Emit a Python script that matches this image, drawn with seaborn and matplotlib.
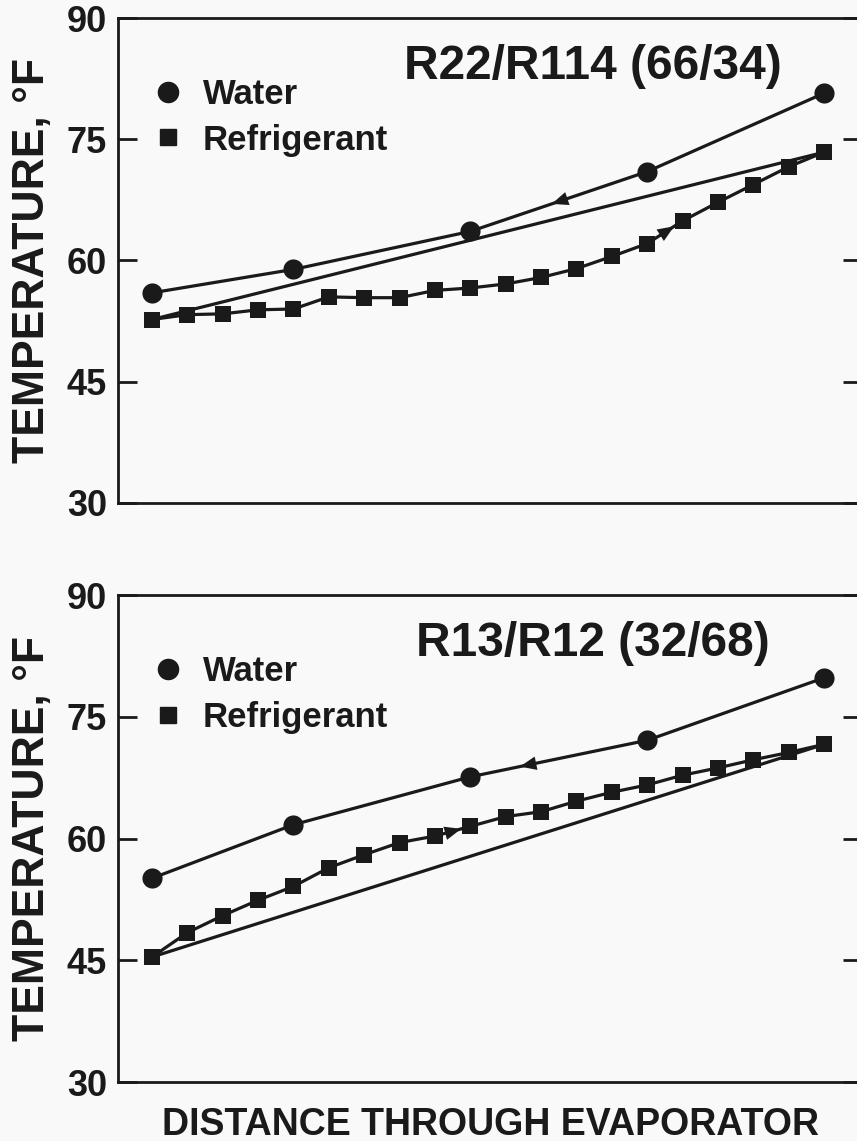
import matplotlib
matplotlib.use("Agg")
import matplotlib.pyplot as plt
from matplotlib.lines import Line2D
import seaborn as sns

# --------------------------
# Data
# --------------------------
water_pos = [0, 4, 9, 14, 19]
ref_pos = list(range(20))

r22_water = [56.0, 58.9, 63.6, 71.0, 80.7]
r22_ref = [52.7, 53.3, 53.4, 53.9, 54.0, 55.5, 55.4, 55.4, 56.3, 56.6,
           57.1, 57.9, 59.0, 60.5, 62.1, 64.9, 67.2, 69.4, 71.6, 73.4]

r13_water = [55.1, 61.7, 67.6, 72.1, 79.8]
r13_ref = [45.4, 48.4, 50.5, 52.4, 54.1, 56.4, 58.0, 59.5, 60.3, 61.5,
           62.7, 63.3, 64.6, 65.7, 66.6, 67.8, 68.7, 69.7, 70.6, 71.6]

y_ticks = [30, 45, 60, 75, 90]
titles = ["R22/R114 (66/34)", "R13/R12 (32/68)"]
legend_labels = ["Water", "Refrigerant"]
ylabel = "TEMPERATURE, \u00b0F"
xlabel = "DISTANCE THROUGH EVAPORATOR"

INK = "#1a1a1a"
BG = "#f9f9f9"


def flow_arrow(ax, xs, ys, i, frac, backward):
    """Small arrowhead sitting on segment i -> i+1 of a series"""
    x0, x1 = xs[i], xs[i + 1]
    y0, y1 = ys[i], ys[i + 1]
    xh = x0 + frac * (x1 - x0)
    yh = y0 + frac * (y1 - y0)
    step = -0.02 if backward else 0.02
    xt = xh - step * (x1 - x0)
    yt = yh - step * (y1 - y0)
    ax.annotate("", xy=(xh, yh), xytext=(xt, yt),
                arrowprops=dict(arrowstyle="-|>,head_length=0.85,head_width=0.35",
                                color=INK, lw=0, shrinkA=0, shrinkB=0,
                                mutation_scale=14), zorder=5)


def panel(ax, water, ref, title, arrows):
    # straight line from first to last refrigerant point
    sns.lineplot(x=[ref_pos[0], ref_pos[-1]], y=[ref[0], ref[-1]], ax=ax,
                 color=INK, linewidth=2.3, zorder=2)
    sns.lineplot(x=water_pos, y=water, ax=ax, color=INK, linewidth=2.3,
                 marker="o", markersize=14.5, markeredgewidth=0, sort=False, zorder=3)
    sns.lineplot(x=ref_pos, y=ref, ax=ax, color=INK, linewidth=2.3,
                 marker="s", markersize=11.5, markeredgewidth=0, sort=False, zorder=3)

    flow_arrow(ax, water_pos, water, *arrows[0], backward=True)
    flow_arrow(ax, ref_pos, ref, *arrows[1], backward=False)

    ax.set_xlim(-0.96, 20.07)
    ax.set_ylim(30, 90)
    ax.set_yticks(y_ticks)
    ax.set_xticks([])
    ax.tick_params(axis="y", direction="in", length=13.7, width=2,
                   right=True, pad=8, labelsize=26, colors=INK)
    for s in ax.spines.values():
        s.set_linewidth(2)
        s.set_color(INK)
    ax.set_facecolor(BG)
    ax.set_ylabel(ylabel, fontsize=32, fontweight="bold", color=INK, labelpad=10)

    ax.text(0.638, 0.875, title, transform=ax.transAxes, ha="center",
            va="baseline", fontsize=34.5, fontweight="bold", color=INK)

    handles = [Line2D([], [], linestyle="none", marker="o", markersize=14.5, color=INK),
               Line2D([], [], linestyle="none", marker="s", markersize=11.5, color=INK)]
    ax.legend(handles, legend_labels, loc="upper left", bbox_to_anchor=(0.044, 0.877),
              frameon=False, borderpad=0, borderaxespad=0, handlelength=1.0,
              handletextpad=0.5, labelspacing=0.37,
              prop={"size": 25, "weight": "bold"}, labelcolor=INK)


sns.set_theme(style="ticks")
plt.rcParams["font.family"] = ["Liberation Sans", "DejaVu Sans"]
plt.rcParams["font.weight"] = "bold"

fig = plt.figure(figsize=(8.57, 11.41), dpi=100, facecolor=BG)
ax_top = fig.add_axes([118 / 857, 1 - 503 / 1141, 744 / 857, 485 / 1141])
ax_bot = fig.add_axes([118 / 857, 1 - 1082 / 1141, 744 / 857, 487 / 1141])

panel(ax_top, r22_water, r22_ref, titles[0], arrows=[(2, 0.46), (14, 0.76)])
panel(ax_bot, r13_water, r13_ref, titles[1], arrows=[(2, 0.28), (8, 0.74)])

ax_bot.set_xlabel(xlabel, fontsize=27, fontweight="bold", color=INK, labelpad=18)

fig.savefig("out.png", dpi=100, facecolor=BG)
plt.close(fig)
